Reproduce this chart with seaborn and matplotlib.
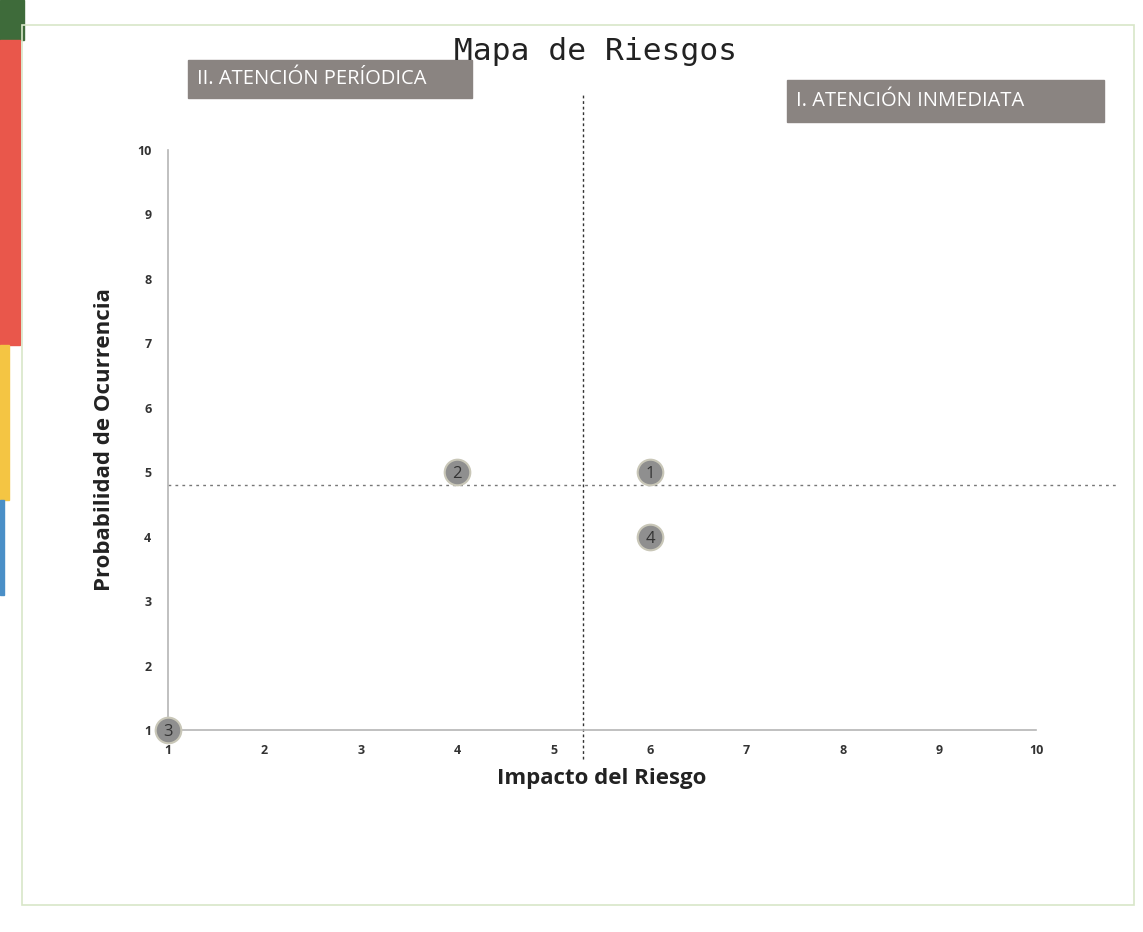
import matplotlib
matplotlib.use("Agg")
import matplotlib.pyplot as plt
from matplotlib.patches import Rectangle
import seaborn as sns
import pandas as pd

# ---- data ----
risk_ids = ["1", "2", "3", "4"]
impact = [6, 4, 1, 6]
probability = [5, 5, 1, 4]
x_ticks = [1, 2, 3, 4, 5, 6, 7, 8, 9, 10]
y_ticks = [1, 2, 3, 4, 5, 6, 7, 8, 9, 10]
v_line_x = 5.3
h_line_y = 4.8
title = "Mapa de Riesgos"
x_label = "Impacto del Riesgo"
y_label = "Probabilidad de Ocurrencia"
quadrant_left = "II. ATENCIÓN PERÍODICA"
quadrant_right = "I. ATENCIÓN INMEDIATA"

df = pd.DataFrame({"id": risk_ids, "impact": impact, "prob": probability})

sns.set_style("white")
plt.rcParams["font.family"] = ["Open Sans", "DejaVu Sans"]

W, H = 1143, 932
fig = plt.figure(figsize=(W / 100, H / 100), dpi=100)

def fx(px):
    return px / W

def fy(py):
    return 1 - py / H

# page frame and left colored strips (scan background)
fig.patches.append(Rectangle((fx(22), fy(905)), fx(1112), fy(25) - fy(905),
                             transform=fig.transFigure, fill=False,
                             edgecolor="#d8e6c8", linewidth=1.2))
strips = [(0, 40, 24, "#3e6b3a"), (40, 345, 20, "#e9574b"),
          (345, 500, 9, "#f4c543"), (500, 595, 4, "#4a8fc7")]
for top, bot, w, c in strips:
    fig.patches.append(Rectangle((0, fy(bot)), fx(w), fy(top) - fy(bot),
                                 transform=fig.transFigure, color=c, zorder=0))

ax = fig.add_axes([fx(168), fy(730), fx(1036) - fx(168), fy(150) - fy(730)])

ax.set_xlim(1, 10)
ax.set_ylim(1, 10)

# quadrant divider lines
ax.plot([v_line_x, v_line_x], [0.55, 10.85], linestyle=(0, (2, 2)),
        color="#333333", linewidth=1.0, clip_on=False, zorder=2)
ax.plot([1, 10.85], [h_line_y, h_line_y], linestyle=(0, (2, 3)),
        color="#777777", linewidth=1.0, clip_on=False, zorder=2)

sns.scatterplot(data=df, x="impact", y="prob", ax=ax, s=340,
                color="#8f8f8f", edgecolor="#c9c7b8", linewidth=1.5,
                zorder=4, clip_on=False, legend=False)
for _, r in df.iterrows():
    ax.text(r["impact"], r["prob"] - 0.03, r["id"], ha="center", va="center",
            fontsize=12, color="#333333", zorder=5)

for s in ["top", "right"]:
    ax.spines[s].set_visible(False)
for s in ["left", "bottom"]:
    ax.spines[s].set_color("#b5b5b5")
    ax.spines[s].set_linewidth(1.2)

ax.set_xticks(x_ticks)
ax.set_yticks(y_ticks)
ax.tick_params(axis="both", length=0, labelsize=9, labelcolor="#333333")
ax.tick_params(axis="x", pad=10)
ax.tick_params(axis="y", pad=12)
for lab in ax.get_xticklabels() + ax.get_yticklabels():
    lab.set_fontweight("bold")

ax.set_xlabel(x_label, fontsize=16, fontweight="bold", color="#222222", labelpad=8)
ax.set_ylabel(y_label, fontsize=16, fontweight="bold", color="#222222", labelpad=16)

fig.text(fx(596), fy(52), title, ha="center", va="center",
         fontsize=22.5, family="DejaVu Sans Mono", color="#222222", zorder=3)

# quadrant label boxes
for (l, t, r, b), label in [((188, 60, 472, 98), quadrant_left),
                            ((787, 80, 1104, 122), quadrant_right)]:
    fig.patches.append(Rectangle((fx(l), fy(b)), fx(r) - fx(l), fy(t) - fy(b),
                                 transform=fig.transFigure, color="#8a8481",
                                 zorder=1))
    fig.text(fx(l + 9), fy((t + b) / 2), label, ha="left", va="center",
             fontsize=14.5, color="white", zorder=2)

fig.savefig("out.png", dpi=100, facecolor="white")
